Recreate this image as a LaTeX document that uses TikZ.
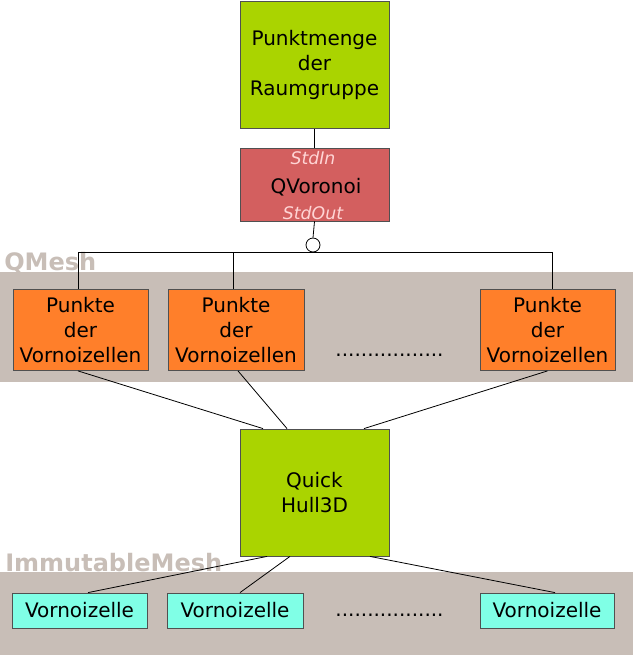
\documentclass[tikz,border=0pt]{standalone}
\usepackage{fontspec}
\setmainfont{DejaVu Sans}
\usetikzlibrary{calc}
\definecolor{lgreen}{HTML}{AAD400}
\definecolor{lred}{HTML}{D35F5F}
\definecolor{lorange}{HTML}{FF7F2A}
\definecolor{lcyan}{HTML}{80FFE6}
\definecolor{band}{HTML}{C8BEB7}
\definecolor{pinktxt}{HTML}{FFD5D5}
\definecolor{bordr}{HTML}{505050}
\begin{document}
\begin{tikzpicture}[x=0.75pt,y=-0.75pt,
  box/.style={draw=bordr,line width=0.6pt,align=center,inner sep=0pt,font=\fontsize{15}{18.75}\selectfont},
  bigbox/.style={box,fill=lgreen,minimum width=111.75pt,minimum height=95pt},
  qvbox/.style={box,fill=lred,minimum width=111.75pt,minimum height=54.75pt},
  obox/.style={box,fill=lorange,minimum height=60.75pt},
  cbox/.style={box,fill=lcyan,minimum height=26.25pt},
  conn/.style={draw=black,line width=0.6pt},
  bandlbl/.style={text=band,font=\fontsize{18}{20}\selectfont\bfseries,anchor=west,inner sep=0pt},
  port/.style={text=pinktxt,font=\fontsize{13}{15}\selectfont\itshape,inner sep=0pt},
  dots/.style={font=\fontsize{15}{18}\selectfont,inner sep=0pt}]
\useasboundingbox (0,0) rectangle (633,655);
% bands
\fill[band] (0,272) rectangle (633,382);
\fill[band] (0,572) rectangle (633,655);
\node[bandlbl] (qmeshlbl) at (4,263) {QMesh};
\node[bandlbl] (immlbl) at (5,563) {ImmutableMesh};
% top
\node[bigbox] (top) at (314.5,65) {Punktmenge\\der\\Raumgruppe};
\node[qvbox] (qv) at (314.5,184.5) {};
\node (qvtxt) at (316,187) [font=\fontsize{15}{18}\selectfont,inner sep=0pt] {QVoronoi};
\node[port] (stdin) at (313,158) {StdIn};
\node[port] (stdout) at (313,213) {StdOut};
\node[circle,draw=black,fill=white,line width=0.6pt,minimum size=10.5pt,inner sep=0pt] (circ) at (313,245) {};
% orange
\node[obox,minimum width=101.25pt] (o1) at (80.5,330) {Punkte\\der\\Vornoizellen};
\node[obox,minimum width=102pt] (o2) at (236,330) {Punkte\\der\\Vornoizellen};
\node[obox,minimum width=101.25pt] (o3) at (547.5,330) {Punkte\\der\\Vornoizellen};
\node[dots] (d1) at (389.5,355) {.................};
% quickhull
\node[bigbox,minimum height=95.25pt] (qh) at (314.5,492.5) {Quick\\Hull3D};
% cyan
\node[cbox,minimum width=101.25pt] (c1) at (79.5,610.5) {Vornoizelle};
\node[cbox,minimum width=102pt] (c2) at (235,610.5) {Vornoizelle};
\node[cbox,minimum width=100.5pt] (c3) at (547,610.5) {Vornoizelle};
\node[dots] (d2) at (389.5,615) {.................};
% connectors
\draw[conn] (top.south) -- (qv.north);
\draw[conn] (qv.south) -- (circ.north);
\draw[conn] ([xshift=-1.9pt]o1.north) |- (circ.south) -| ([xshift=4pt]o3.north);
\draw[conn] ([xshift=-2.2pt]o2.north) -- ([xshift=-2.2pt]o2.north |- circ.south);
\draw[conn] ([xshift=-1.9pt]o1.south) -- ([xshift=-38.6pt]qh.north);
\draw[conn] ([xshift=1.5pt]o2.south) -- ([xshift=-20.6pt]qh.north);
\draw[conn] (o3.south) -- ([xshift=37.1pt]qh.north);
\draw[conn] ([xshift=-35.6pt]qh.south) -- ([xshift=6.4pt]c1.north);
\draw[conn] ([xshift=-18.4pt]qh.south) -- ([xshift=3.75pt]c2.north);
\draw[conn] ([xshift=41.6pt]qh.south) -- ([xshift=6pt]c3.north);
\end{tikzpicture}
\end{document}
